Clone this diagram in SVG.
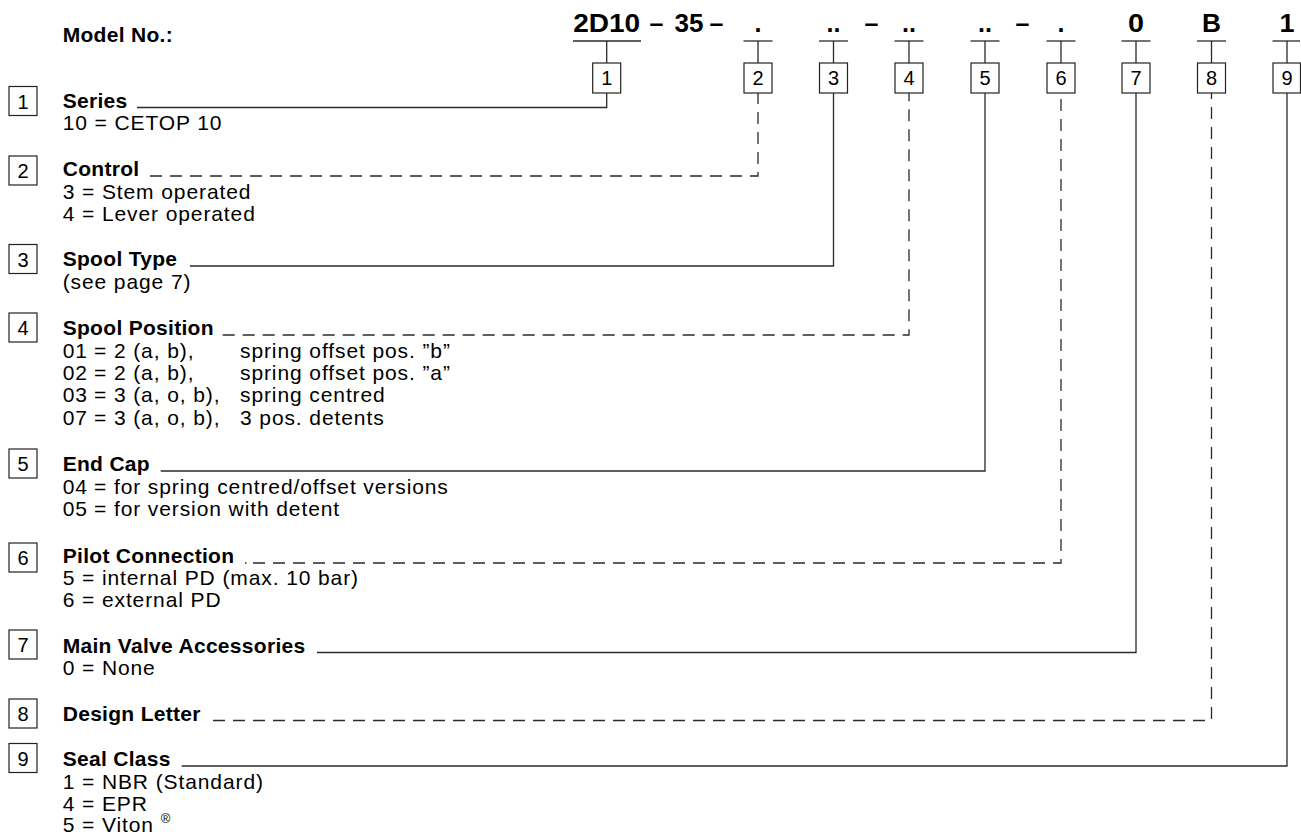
<svg xmlns="http://www.w3.org/2000/svg" width="1301" height="836" viewBox="0 0 1301 836">
<style>
text{font-family:"Liberation Sans",Arial,Helvetica,sans-serif;fill:#000}
.h{font-weight:bold;font-size:21px;letter-spacing:0.3px}
.t{font-size:21px;letter-spacing:0.9px}
.code{font-weight:bold;font-size:25px;text-anchor:middle}
.num{font-size:20px;text-anchor:middle}
.box{fill:#fff;stroke:#222;stroke-width:1.2}
.ln{fill:none;stroke:#2a2a2a;stroke-width:1.3}
.dash{stroke-dasharray:12 8}
</style>
<rect width="1301" height="836" fill="#fff"/>
<text class="h" x="62.7" y="41.7">Model No.:</text>
<g id="model-code">
<text class="code" x="606.7" y="32" textLength="67" lengthAdjust="spacingAndGlyphs">2D10</text>
<text class="code" x="656.5" y="32">–</text>
<text class="code" x="689" y="32" textLength="29" lengthAdjust="spacingAndGlyphs">35</text>
<text class="code" x="716.5" y="32">–</text>
<text class="code" x="871.5" y="32">–</text>
<text class="code" x="1022.5" y="32">–</text>
</g>
<g id="col1"><line class="ln" x1="573" y1="41" x2="641" y2="41"/><rect class="box" x="592.7" y="63" width="28" height="30"/><text class="num" x="606.7" y="85">1</text></g>
<g id="col2"><text class="code" x="758" y="32">.</text><line class="ln" x1="743.5" y1="41" x2="772.5" y2="41"/><rect class="box" x="744" y="63" width="28" height="30"/><text class="num" x="758" y="85">2</text></g>
<g id="col3"><text class="code" x="833.5" y="32">..</text><line class="ln" x1="819" y1="41" x2="848" y2="41"/><rect class="box" x="819.5" y="63" width="28" height="30"/><text class="num" x="833.5" y="85">3</text></g>
<g id="col4"><text class="code" x="909" y="32">..</text><line class="ln" x1="894.5" y1="41" x2="923.5" y2="41"/><rect class="box" x="895" y="63" width="28" height="30"/><text class="num" x="909" y="85">4</text></g>
<g id="col5"><text class="code" x="985" y="32">..</text><line class="ln" x1="970.5" y1="41" x2="999.5" y2="41"/><rect class="box" x="971" y="63" width="28" height="30"/><text class="num" x="985" y="85">5</text></g>
<g id="col6"><text class="code" x="1061" y="32">.</text><line class="ln" x1="1046.5" y1="41" x2="1075.5" y2="41"/><rect class="box" x="1047" y="63" width="28" height="30"/><text class="num" x="1061" y="85">6</text></g>
<g id="col7"><text class="code" x="1136" y="32" textLength="16" lengthAdjust="spacingAndGlyphs">0</text><line class="ln" x1="1121.5" y1="41" x2="1150.5" y2="41"/><rect class="box" x="1122" y="63" width="28" height="30"/><text class="num" x="1136" y="85">7</text></g>
<g id="col8"><text class="code" x="1211.5" y="32" textLength="19" lengthAdjust="spacingAndGlyphs">B</text><line class="ln" x1="1197" y1="41" x2="1226" y2="41"/><rect class="box" x="1197.5" y="63" width="28" height="30"/><text class="num" x="1211.5" y="85">8</text></g>
<g id="col9"><text class="code" x="1287" y="32" textLength="15" lengthAdjust="spacingAndGlyphs">1</text><line class="ln" x1="1272.5" y1="41" x2="1300" y2="41"/><rect class="box" x="1273" y="63" width="27.5" height="30"/><text class="num" x="1287" y="85">9</text></g>

<g id="connectors">
<path class="ln" d="M606.7 41V63M758 41V63M833.5 41V63M909 41V63M985 41V63M1061 41V63M1136 41V63M1211.5 41V63M1287 41V63"/>
<path class="ln" d="M137 107.5H606.7V93"/>
<path class="ln dash" d="M150 176H758V93"/>
<path class="ln" d="M190 266H833.5V93"/>
<path class="ln dash" d="M222.7 335H909V93"/>
<path class="ln" d="M160.7 471H985V93"/>
<path class="ln" d="M245 563H246.5"/>
<path class="ln dash" d="M253 563H1061V93"/>
<path class="ln" d="M317 652.5H1136V93"/>
<path class="ln dash" d="M213 720.5H1211.5V93"/>
<path class="ln" d="M181.7 766H1287V93"/>
</g>

<g id="row1"><rect class="box" x="9" y="86.5" width="28" height="29"/><text class="num" x="23" y="108.5">1</text>
<text class="h" x="62.7" y="107.5">Series</text>
<text class="t" x="62.7" y="130">10 = CETOP 10</text></g>

<g id="row2"><rect class="box" x="9" y="156" width="28" height="29"/><text class="num" x="23" y="178">2</text>
<text class="h" x="62.7" y="176">Control</text>
<text class="t" x="62.7" y="198.5">3 = Stem operated</text>
<text class="t" x="62.7" y="220.5">4 = Lever operated</text></g>

<g id="row3"><rect class="box" x="9" y="244.5" width="28" height="29"/><text class="num" x="23" y="266.5">3</text>
<text class="h" x="62.7" y="266">Spool Type</text>
<text class="t" x="62.7" y="288.5">(see page 7)</text></g>

<g id="row4"><rect class="box" x="9" y="313" width="28" height="29"/><text class="num" x="23" y="335">4</text>
<text class="h" x="62.7" y="335">Spool Position</text>
<text class="t" y="357.5"><tspan x="62.7">01</tspan><tspan x="94">= 2 (a, b),</tspan><tspan x="240">spring offset pos. ”b”</tspan></text>
<text class="t" y="380"><tspan x="62.7">02</tspan><tspan x="94">= 2 (a, b),</tspan><tspan x="240">spring offset pos. ”a”</tspan></text>
<text class="t" y="402"><tspan x="62.7">03</tspan><tspan x="94">= 3 (a, o, b),</tspan><tspan x="240">spring centred</tspan></text>
<text class="t" y="424.5"><tspan x="62.7">07</tspan><tspan x="94">= 3 (a, o, b),</tspan><tspan x="240">3 pos. detents</tspan></text></g>

<g id="row5"><rect class="box" x="9" y="449" width="28" height="29"/><text class="num" x="23" y="471">5</text>
<text class="h" x="62.7" y="471">End Cap</text>
<text class="t" y="493.5"><tspan x="62.7">04</tspan><tspan x="94">= for spring centred/offset versions</tspan></text>
<text class="t" y="516"><tspan x="62.7">05</tspan><tspan x="94">= for version with detent</tspan></text></g>

<g id="row6"><rect class="box" x="9" y="543" width="28" height="29"/><text class="num" x="23" y="565">6</text>
<text class="h" x="62.7" y="563">Pilot Connection</text>
<text class="t" x="62.7" y="585">5 = internal PD (max. 10 bar)</text>
<text class="t" x="62.7" y="607">6 = external PD</text></g>

<g id="row7"><rect class="box" x="9" y="630" width="28" height="29"/><text class="num" x="23" y="652">7</text>
<text class="h" x="62.7" y="652.5">Main Valve Accessories</text>
<text class="t" x="62.7" y="675">0 = None</text></g>

<g id="row8"><rect class="box" x="9" y="699" width="28" height="29"/><text class="num" x="23" y="721">8</text>
<text class="h" x="62.7" y="720.5">Design Letter</text></g>

<g id="row9"><rect class="box" x="9" y="743.5" width="28" height="29"/><text class="num" x="23" y="765.5">9</text>
<text class="h" x="62.7" y="766">Seal Class</text>
<text class="t" x="62.7" y="788.5">1 = NBR (Standard)</text>
<text class="t" x="62.7" y="810.5">4 = EPR</text>
<text class="t" x="62.7" y="832">5 = Viton <tspan font-size="13" dy="-9">®</tspan></text></g>
</svg>
